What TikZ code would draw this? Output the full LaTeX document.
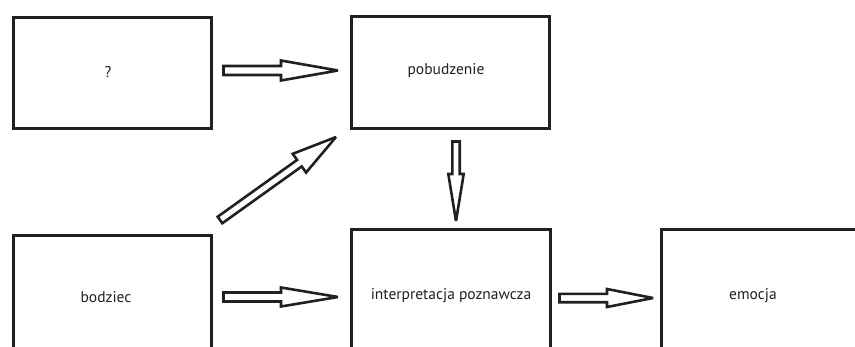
\documentclass[tikz,border=0pt]{standalone}
\usepackage{fontspec}
\setmainfont{PT Sans}
\usetikzlibrary{calc}
\definecolor{ink}{HTML}{231F20}
\newcommand\BlockArr[5]{%
  \path (#1); \pgfgetlastxy{\bax}{\bay}%
  \path (#2); \pgfgetlastxy{\bbx}{\bby}%
  \pgfmathsetmacro\baang{atan2(\bby-\bay,\bbx-\bax)}%
  \pgfmathsetmacro\balen{veclen(\bbx-\bax,\bby-\bay)}%
  \begin{scope}[shift={(#1)},rotate=\baang]
    \draw[arrline] (0,-#4) -- ({\balen-#3},-#4) -- ({\balen-#3},-#5) -- (\balen,0)
      -- ({\balen-#3},#5) -- ({\balen-#3},#4) -- (0,#4) -- cycle;
  \end{scope}}
\begin{document}
\begin{tikzpicture}[x=1pt,y=1pt,
  box/.style={draw=ink, line width=3.2pt, rectangle, inner sep=0pt, outer sep=0pt},
  lbl/.style={font=\fontsize{15.5}{18}\selectfont, text=ink, inner sep=0pt},
  arrline/.style={draw=ink, fill=white, line width=2.6pt, line join=miter, miter limit=3}]
\useasboundingbox (0,0) rectangle (855,-346);
% boxes
\node[box, minimum width=198pt, minimum height=111pt] (q) at (112.5,-73) {};
\node[box, minimum width=198pt, minimum height=112pt] (pob) at (450.5,-72.5) {};
\node[box, minimum width=198pt, minimum height=164.5pt] (bod) at (112.5,-317.75) {};
\node[box, minimum width=199pt, minimum height=170.5pt] (int) at (451,-314.75) {};
\node[box, minimum width=288.5pt, minimum height=170.5pt] (emo) at (805.75,-314.75) {};
% labels
\node[lbl] (qt) at (108,-72) {?};
\node[lbl] (pt) at (446,-71) {pobudzenie};
\node[lbl] (bt) at (106,-297) {bodziec};
\node[lbl] (it) at (451,-296) {interpretacja poznawcza};
\node[lbl] (et) at (753,-296) {emocja};
% connector end points
\coordinate (a1s) at ([shift={(12,2.5)}]q.east);
\coordinate (a1e) at ([shift={(-13.5,2)}]pob.west);
\coordinate (a2s) at ([shift={(12,-61.5)}]bod.north east);
\coordinate (a2e) at ([shift={(-13.5,-67.5)}]int.north west);
\coordinate (a3s) at ([shift={(9,-68.5)}]int.north east);
\coordinate (a3e) at ([shift={(-8.5,-68.5)}]emo.north west);
\coordinate (a4s) at ([shift={(5.5,-13)}]pob.south);
\coordinate (a4e) at ([shift={(5,8.5)}]int.north);
\coordinate (a5s) at ([shift={(8.5,15.5)}]bod.north east);
\coordinate (a5e) at ([shift={(-15.5,-8.5)}]pob.south west);
% arrows
\BlockArr{a1s}{a1e}{57}{4.5}{10}
\BlockArr{a2s}{a2e}{57}{4.5}{9.5}
\BlockArr{a3s}{a3e}{46}{4.2}{9}
\BlockArr{a4s}{a4e}{47}{3.7}{7.7}
\BlockArr{a5s}{a5e}{45}{4}{11.5}
\end{tikzpicture}
\end{document}
